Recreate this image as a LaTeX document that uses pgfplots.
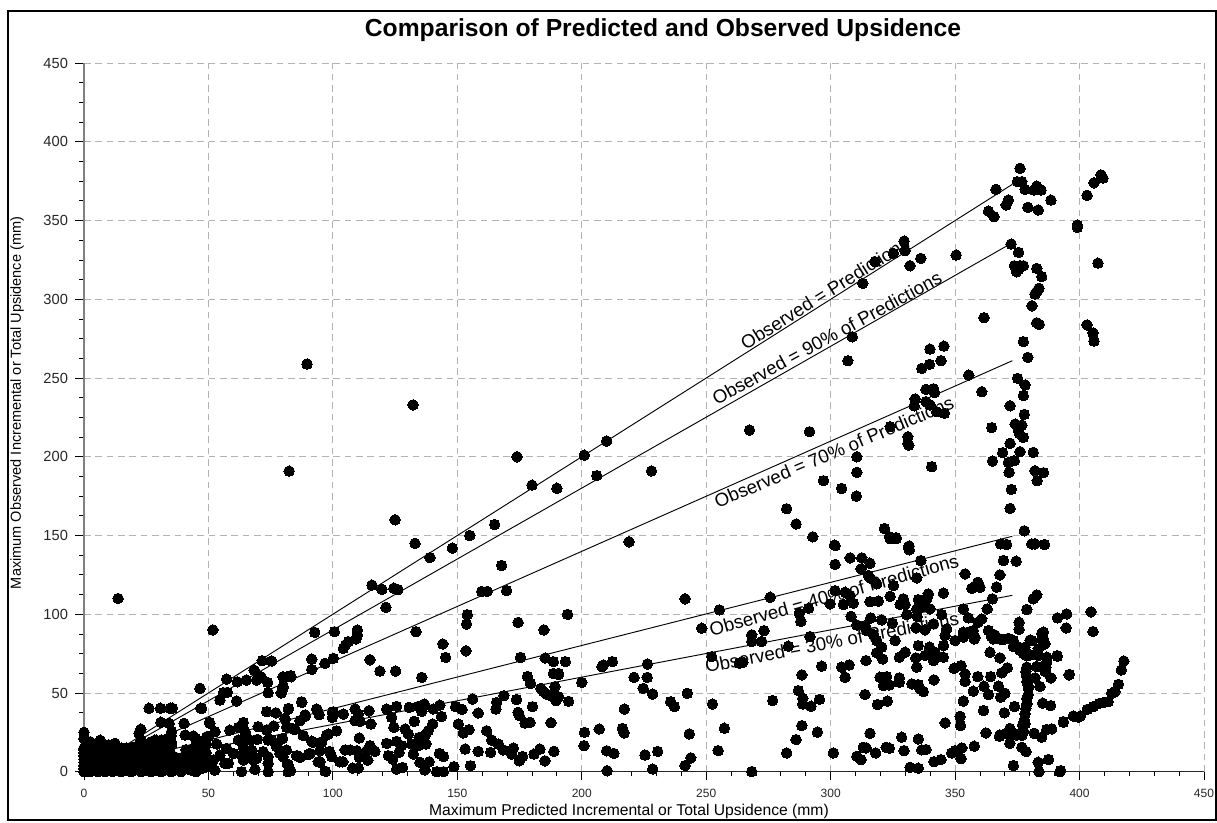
\documentclass[border=0pt]{standalone}
\usepackage{fontspec}
\setmainfont{Liberation Sans}
\usepackage{pgfplots}
\pgfplotsset{compat=1.18}
\begin{document}
\begin{tikzpicture}[x=0.75pt,y=0.75pt]
\useasboundingbox (0,0) rectangle (1217,822);
\draw[line width=1.4pt,black] (8,822-11) rectangle (1215.7,822-820);
\begin{axis}[
  at={(63pt,37.725pt)},anchor=south west,
  scale only axis,width=840pt,height=531.45pt,
  xmin=0,xmax=450,ymin=0,ymax=450,
  axis x line=bottom,axis y line=left,
  axis line style={-},
  y axis line style={color=gray,line width=1.2pt},
  x axis line style={line width=0.7pt,color=black!85},
  xtick={0,50,...,450},ytick={0,50,...,450},
  minor x tick num=4,minor y tick num=3,
  tick align=outside,
  major tick length=6.5pt,minor tick length=3.5pt,
  tick style={black,line width=0.6pt},
  grid=major,
  major grid style={dashed,color=black!30,line width=0.7pt,dash pattern=on 5pt off 3.5pt},
  /pgf/number format/assume math mode=true,
  xticklabel style={font=\fontsize{9}{10}\selectfont,color=black!85,yshift=-3pt},
  yticklabel style={font=\fontsize{11}{12}\selectfont,color=black!85,xshift=-2pt},
  title={\fontsize{18.5}{20}\selectfont\bfseries Comparison of Predicted and Observed Upsidence},
  title style={at={(axis description cs:0.517,1.0355)},anchor=center},
  xlabel={\fontsize{11.75}{13}\selectfont Maximum Predicted Incremental or Total Upsidence (mm)},
  xlabel style={at={(axis description cs:0.4866,-0.0555)},anchor=center},
  ylabel={\fontsize{10.9}{13}\selectfont Maximum Observed Incremental or Total Upsidence (mm)},
  ylabel style={at={(axis description cs:-0.0598,0.5205)},anchor=center,rotate=0},
  clip=false,
]
\addplot[only marks,mark=*,mark size=3.95pt,mark options={fill=black,draw=black,line width=0pt},forget plot] table[row sep=\\] {
x y\\
13.7 110\\ 51.8 90\\ 89.6 258.9\\ 82.4 190.9\\ 132.2 232.9\\
174 200\\ 180 182\\ 190 180\\ 201 201\\ 206 188\\ 210 210\\ 228 191\\ 219 146\\ 165 157\\ 125 160\\ 133 145\\ 139 136\\ 148 142\\ 155 150\\
115.7 118.5\\ 119.7 115.8\\ 124.5 116.6\\ 126.1 115.6\\ 121.3 104.4\\ 167.8 131\\ 159.8 114.5\\ 162 114.5\\ 169.8 115\\ 154 99.7\\ 153.7 93.8\\ 153.5 76.8\\
92.7 88.5\\ 100.6 88.9\\ 109.8 90\\ 109.3 84.3\\ 106.2 82.6\\ 105.1 80.6\\ 104.2 78.3\\ 109.8 87\\ 114.9 71.1\\ 118.9 63.9\\ 125.2 63.9\\ 133.4 88.9\\ 144.2 81.1\\ 145.3 72.6\\ 135.7 59.9\\ 174.4 94.8\\ 184.8 90\\ 194.3 99.9\\ 175.4 72.6\\ 185.3 72.2\\ 188.6 69.9\\ 193.4 69.9\\ 188.6 62.4\\ 190.7 62.4\\ 190.7 61.6\\ 178.2 60.5\\ 179.4 56.1\\ 189.2 54\\ 200 56.7\\ 208.1 66.7\\ 208.6 67.7\\ 212.3 69.9\\ 226.4 68.4\\ 221 59.9\\ 226.3 59.9\\ 224.7 52.9\\ 228.5 49.3\\ 235.7 44.5\\ 237.2 41.3\\ 217.1 39.8\\
183.6 52.9\\ 184.5 51\\ 185.9 49.3\\ 187.5 48.3\\ 190.7 47.6\\ 189.6 45.1\\ 194.7 44.7\\ 156.1 46.1\\ 168.7 48.3\\ 173.8 45.9\\ 165.8 44\\ 165.5 39.8\\ 180.2 41.3\\ 158.4 37.3\\ 174.4 37.7\\ 174.9 35.6\\ 177.2 30.9\\ 179.2 31.3\\ 187.6 31.1\\ 149.3 41.3\\ 151.9 39.6\\ 150.4 30.3\\ 154.7 26.7\\ 152.4 24.6\\ 161.8 26\\ 163.8 20.1\\ 166.5 17.6\\ 168.5 13.8\\ 171.8 11.2\\ 172.5 15\\ 153.1 14.4\\ 158.4 12.9\\ 163.4 12.3\\ 183.2 14.4\\ 180.8 11.2\\ 188.8 12.9\\ 176.2 9.7\\ 174.9 6.9\\ 185.2 6.9\\ 155.3 3.8\\ 148.6 3.2\\ 201.1 25\\ 200.9 16.5\\ 207 27.1\\ 216.3 27.5\\ 217 24.6\\ 210 13.3\\ 212.9 11.6\\ 225.4 10.6\\ 230.5 12.9\\ 210.2 0.6\\ 228.5 1.7\\
87.5 44\\ 82.1 39.8\\ 93.7 39.4\\ 94.5 36.2\\ 99.8 37.7\\ 99.8 34.5\\ 104.2 36.6\\ 108.9 39.8\\ 110.2 36.6\\ 108.9 32.4\\ 110.9 32\\ 114.5 38.7\\ 115.3 30.3\\ 121.6 39.8\\ 125.6 41.5\\ 123.6 34.5\\ 124.5 28.2\\ 130.7 40.9\\ 134.3 41.5\\ 136.7 43\\ 135.7 38.3\\ 132.7 32\\ 140.3 39.8\\ 143 42.3\\ 143.6 35.1\\ 140.1 30.3\\ 138.3 26\\ 137 22.9\\ 134.7 21.8\\ 129 27.1\\ 130.3 23.9\\ 101.5 26\\ 98.2 23.9\\ 110.6 21.4\\ 137.4 17.6\\ 131.6 17.6\\ 134.3 16.5\\ 121.6 18\\ 125.6 19.3\\ 127.6 16.5\\ 126.6 12.3\\ 114.9 16.5\\ 113.6 13.3\\ 116.9 12.9\\ 104.9 13.8\\ 106.9 13.8\\ 109.6 13.3\\ 110.6 9.1\\ 132.3 11.2\\ 122.3 10.2\\ 124 8\\ 142.8 11.6\\ 144.4 9.7\\ 104 6.3\\ 114 7.4\\ 135 5.9\\ 138.7 6.3\\ 137 1.1\\ 125.6 1.7\\ 128 2.7\\ 108 2.3\\ 110.2 2.3\\ 141.7 0\\ 144.4 0\\ 97.1 0.2\\ 94.8 6.3\\ 99.5 9.7\\ 98.6 12.9\\ 92.1 18.6\\ 95.5 18.6\\ 94.8 13.3\\ 88.1 22.9\\ 84.1 27.1\\ 86.8 32.4\\ 88.8 35.1\\ 80.8 33.4\\ 81.4 28.2\\ 79.4 20.7\\ 80.8 13.3\\ 81.7 4.9\\ 83 0.6\\ 86.8 9.1\\ 85.4 10.2\\ 90.1 10.8\\ 91.5 71.5\\ 96.8 68.8\\ 100.2 72\\ 83.2 60.3\\ 80.1 59.9\\ 80.1 53.6\\ 79.2 50\\
71.6 70.5\\ 75.4 70.3\\ 57.3 58.8\\ 61.6 57.1\\ 65.3 58.2\\ 68.4 64.5\\ 69.4 58.2\\ 71.1 60.3\\ 73.8 56.7\\ 56 50.2\\ 57.6 50.4\\ 54.6 45.5\\ 61.3 44.9\\ 74 50.2\\ 80 54\\ 79.4 50.4\\ 80 60.3\\ 83 61\\ 91.5 65\\ 47.3 40.2\\ 46.6 52.9\\ 87.4 44.4\\ 73.4 38.1\\ 77.1 37.4\\ 82.1 40.2\\ 93.5 39.8\\ 100.2 38.1\\ 88.8 36\\ 80.7 33.8\\ 50.6 30.7\\ 52.6 25.4\\ 58.6 26.4\\ 62 28.1\\ 64 31.3\\ 64.7 25.4\\ 70 28.6\\ 73.4 26.4\\ 76.3 29\\ 82.1 28.1\\ 84.8 26.9\\ 65.3 22.2\\ 69.6 20.5\\ 74 20.1\\ 79.8 21.1\\ 91.5 19.4\\ 95.5 19\\ 97.5 23.3\\ 49.3 22.2\\ 53.3 17.6\\ 47.9 18\\ 48.6 11.6\\ 52 7.4\\ 57.3 14.8\\ 60 11.6\\ 63.3 10.6\\ 67.4 13.7\\ 72 12.7\\ 74 9.5\\ 78.7 11.6\\ 81.4 13.7\\ 58 5.3\\ 64 7.4\\ 68 7.4\\ 74 5.3\\ 63.3 0\\ 68.7 1.5\\ 74 0\\ 82.1 4.2\\ 82.1 0\\ 90.8 11.6\\ 94.1 6.3\\ 96.8 0.4\\ 102.8 6.3\\ 54.6 10.6\\ 56.6 5.3\\ 64 15.8\\ 66.7 20.1\\ 62 20.1\\ 66 10.6\\ 69.4 8.4\\ 77.4 15.9\\ 80 9.5\\ 75.4 20.1\\ 47.3 7.4\\ 47.3 2.1\\ 50 3.2\\ 52.6 1\\
22.8 27\\ 22.1 24.4\\ 26.1 40.3\\ 30.7 40.3\\ 34.6 40.3\\ 35.5 40.3\\ 30.9 31.4\\ 34.2 30.7\\ 40.2 30.7\\ 46.9 40.3\\ 50.4 31.4\\ 35.2 25.4\\ 33.9 21.2\\ 40.6 23.3\\ 43.9 22.7\\ 50 22.3\\ 28.5 20.1\\ 31.2 20.1\\ 35.2 17\\ 26.5 17\\ 32.6 15.9\\
0 0\\ 0 2\\ 0 4\\ 0 6\\ 0 8\\ 0 10\\ 0 12\\ 0 14\\ 0 15\\ 0 21\\ 0 25\\ 1 1\\ 1 3\\ 1 5\\ 1 7\\ 1 9\\ 1 11\\ 1 13\\ 1 16\\ 1 19\\
2.5 0\\ 2.5 4\\ 2.5 8\\ 2.5 12\\ 2.5 15\\ 2.5 19\\ 4 1\\ 4 5\\ 4 9\\ 4 13\\ 4 17\\ 5.5 0\\ 5.5 3\\ 5.5 7\\ 5.5 11\\ 5.5 15\\ 7 2\\ 7 6\\ 7 10\\ 7 14\\ 7 18\\ 6.5 20\\ 8.5 0\\ 8.5 4\\ 8.5 8\\ 8.5 12\\ 8.5 16\\ 10 1\\ 10 5\\ 10 9\\ 10 13\\ 10 17\\ 11.5 0\\ 11.5 3\\ 11.5 7\\ 11.5 11\\ 11.5 15\\ 13 2\\ 13 6\\ 13 10\\ 13 14\\ 12.5 18\\ 15 0\\ 15 4\\ 15 8\\ 15 12\\ 15 15\\ 17 1\\ 17 5\\ 17 9\\ 17 13\\ 17 15\\ 19 0\\ 19 3\\ 19 7\\ 19 11\\ 19 15\\ 21 2\\ 21 6\\ 21 10\\ 21 14\\ 21 16\\ 23 0\\ 23 4\\ 23 8\\ 23 12\\ 23 16\\ 23 20\\ 25 1\\ 25 5\\ 25 9\\ 25 13\\ 25 16\\ 27 0\\ 27 3\\ 27 7\\ 27 11\\ 27 15\\ 27 19\\ 29 1\\ 29 5\\ 29 9\\ 29 13\\ 29 16\\ 29 20\\ 31 0\\ 31 4\\ 31 8\\ 31 11\\ 31 15\\ 31 19\\ 33 2\\ 33 6\\ 33 9\\ 33 12\\ 33 17\\ 35 0\\ 35 4\\ 35 7\\ 35 11\\ 35 19\\ 35 23\\ 37 2\\ 37 6\\ 37 9\\ 39 0\\ 39 4\\ 39 8\\ 41 3\\ 41 7\\ 41 11\\ 41 14\\ 43 1\\ 43 5\\ 43 9\\ 43 13\\ 45 0\\ 45 3\\ 45 7\\ 45 12\\ 45 17\\ 45 21\\ 47 5\\ 47 9\\ 47 14\\ 47 19\\ 49 3\\ 49 8\\ 49 12\\ 49 17\\
241.5 109.8\\ 255.3 102.8\\ 275.7 110.8\\ 248.2 91.1\\ 287.4 100.6\\ 288 95.4\\ 291.1 103.8\\ 299.8 106.6\\ 305.1 106.2\\ 301.8 115\\ 305.8 114\\ 307.8 111.9\\ 309.1 107\\ 308.2 98.7\\ 268.3 86.9\\ 268.3 82.7\\ 272.3 82.7\\ 273.2 89.6\\ 283 79.7\\ 291.7 85.8\\ 252.2 73.1\\ 263.3 68.9\\ 264.7 69.5\\ 296.4 67\\ 288.4 61.5\\ 304.4 66.4\\ 307.4 67.8\\ 305.8 60\\ 314.2 70.6\\ 287 51.5\\ 288.8 46.7\\ 288.8 43\\ 292.1 41.6\\ 295.5 46\\ 276.7 45.2\\ 242.4 49.8\\ 252.5 43\\ 313.8 49\\ 318.8 42.6\\ 322.8 44.8\\ 243.2 24\\ 243.8 8.8\\ 241.5 3.9\\ 257.3 27.6\\ 254.8 13.4\\ 268.3 0.1\\ 288.4 29.3\\ 286.1 20.4\\ 294.7 25.1\\ 282.3 11.9\\ 301.1 11.9\\ 315.8 24.4\\ 310.5 9.8\\ 312.2 7.7\\ 313.1 15.5\\ 314.2 15.1\\ 318.1 11.9\\ 322.3 15.5\\ 323.6 14.9\\ 328.5 21.9\\ 329.5 13.4\\ 335.2 20.8\\ 336.6 13.9\\ 338.3 14.1\\ 331.9 2.8\\ 335.2 2.2\\ 341.5 6.4\\ 344.3 7.7\\ 348.6 11.9\\ 350 13.4\\ 352.7 15.1\\ 352.4 8.3\\ 346 31\\ 357.7 16.2\\ 352 35.2\\ 352.2 29.3\\ 362.4 24.6\\ 353.3 44.8\\ 361.4 38.8\\ 357.3 51.1\\ 354 62.1\\ 354 57.3\\ 349.6 65.7\\ 352.4 67.4\\ 359.1 60.4\\ 364.3 60.4\\ 361.6 54.3\\ 363.4 49\\ 367.4 54.3\\ 368.3 47.3\\ 370 49.8\\ 369.8 37.4\\ 373.9 41.4\\ 368.7 62.8\\ 371 66\\ 368 72.3\\ 364 75.9\\ 319.8 60\\ 322.5 60.4\\ 321.2 54.7\\ 323.6 55.1\\ 327.6 59.6\\ 327.6 56.8\\ 332.6 55.8\\ 335.2 55.3\\ 335.9 52.6\\ 337.2 50.9\\ 341.5 58.3\\ 334.6 66.4\\ 334.2 72.3\\ 327.6 72.7\\ 329.9 75.9\\ 318.5 75.5\\ 320.9 71.6\\ 320.5 79.1\\ 318.5 83.3\\ 325.9 83.3\\ 335.2 80.1\\ 337.9 73.8\\ 339.7 79.1\\ 341.9 75.9\\ 341.3 70.6\\ 345.3 72.7\\ 345.3 80.1\\ 346 86.5\\ 346.6 90.7\\ 350 83.3\\ 353.3 85.4\\ 353.3 88.6\\ 357.3 89.6\\ 357.7 84.3\\ 363.4 89.6\\ 365.4 84.3\\ 368 84.3\\ 373.4 83.3\\ 373.4 79.5\\ 376.1 77\\ 378.8 73.8\\ 380.8 83.3\\ 378.1 79.1\\ 385.5 88.6\\ 386.1 81.2\\ 383.4 78\\ 383.4 73.8\\ 384.8 84.3\\ 386.8 72.7\\ 386.8 69.5\\ 386.5 66.4\\ 386.1 63.8\\ 391.1 73.3\\ 394.6 91.3\\ 394.8 100.2\\ 391.1 97.7\\ 375.7 94.9\\ 375.7 90.3\\ 378.8 103\\ 381.4 109.8\\ 382.8 112.3\\ 395.8 61.5\\ 388.5 59.6\\ 382.8 66.8\\ 378.8 66.4\\ 378.8 60.6\\ 382.1 59.6\\ 379.4 54.3\\ 384.1 54.1\\ 379.4 49\\ 378.8 43\\ 385.2 43.5\\ 388.4 42\\ 378.1 36.7\\ 378.1 30.4\\ 377.4 26.1\\ 376.8 23\\ 373.4 24\\ 372 26.1\\ 367.8 22.5\\ 372 18.1\\ 376.8 15.5\\ 378.5 12.8\\ 373.4 3.9\\ 383.4 6\\ 387.5 7.7\\ 383.7 0\\ 392.1 0\\ 381.8 24.4\\ 384.8 21.9\\ 386.8 26.8\\ 388.8 27.2\\ 393.5 31.4\\ 397.9 35\\ 399.5 34.6\\
301.8 143.6\\ 301.8 131.6\\ 307.8 135.8\\ 312.5 135.8\\ 315.8 132.4\\ 312.2 128.8\\ 315.2 124.6\\ 315.8 123.1\\ 318.5 119.3\\ 325.2 118.2\\ 334.6 123.1\\ 336.2 134.1\\ 331.2 142.6\\ 331.6 140.9\\ 323.9 111.4\\ 315.8 108\\ 319.2 108.3\\ 329.2 109.8\\ 327.9 106.2\\ 329.9 106.2\\ 335.2 109.3\\ 339.2 112.9\\ 338.6 109.8\\ 345.3 113.4\\ 334.6 103.4\\ 336.6 104.5\\ 339.9 103.4\\ 330.6 99.8\\ 334.8 98.5\\ 344.6 99.8\\ 316.1 97.7\\ 320.5 96.4\\ 324.8 94.3\\ 310.5 93.2\\ 313.8 92.8\\ 314.5 89.6\\ 317.2 87.1\\ 334.3 91.3\\ 337.9 90.1\\ 341.3 93.9\\ 353.3 103.4\\ 355.3 97.7\\ 359.3 95\\ 360.7 97\\ 362.9 103.4\\ 365 109.8\\ 366.7 117.2\\ 368 125\\ 354 125.6\\ 356.7 116.5\\ 359.1 120.3\\ 360 117.2\\ 369.4 134.1\\ 374.5 133.7\\ 368.3 144.7\\ 370.7 144.3\\ 380.8 144.7\\ 382.1 144.7\\ 385.9 144.3\\ 323.9 148\\ 326.3 148\\
376.1 383.2\\ 375 374.7\\ 376.8 374.7\\ 366.4 369.8\\ 378.1 369.8\\ 381.7 369.4\\ 382.8 371.9\\ 384.5 369.4\\ 371.4 363\\ 370.5 359.9\\ 388.5 363\\ 379.2 358.4\\ 383.4 356.7\\ 363.4 356\\ 365.6 352.5\\ 399.1 347.2\\ 399.1 345.7\\ 329.5 337\\ 329.9 330.9\\ 325.2 329.2\\ 317.8 323.9\\ 336.2 326\\ 331.9 321.3\\ 350.4 328.1\\ 312.9 310.1\\ 372.5 335.1\\ 375.5 329.8\\ 373.8 321.3\\ 377.4 321.3\\ 376.1 321.3\\ 374.7 317.5\\ 375.4 319\\ 382.8 319.6\\ 384.8 314.4\\ 383.7 307\\ 382.8 304.8\\ 382.1 303.3\\ 380.9 295.9\\ 382.8 285.1\\ 383.8 284.1\\ 361.6 288.3\\ 308.7 276.2\\ 306.9 261\\ 339.9 268.4\\ 345.5 270.3\\ 344.3 261\\ 339.7 258.7\\ 336.6 256.1\\ 377.4 273.1\\ 379.2 263.1\\ 355.5 251.9\\ 360.7 241.3\\ 375.1 249.8\\ 378.1 245.6\\ 377.4 238.8\\ 372.1 232.4\\ 377.8 226.9\\ 338.3 242.8\\ 341.3 243.2\\ 341.7 240.7\\ 333.9 236.7\\ 333.6 232.4\\ 338.3 235\\ 339.9 232.9\\ 342.6 228.6\\ 345.7 227.6\\ 267.4 217\\ 291.5 215.9\\ 323.9 219.1\\ 331 212.7\\ 331 208.5\\ 331.4 207.4\\ 364.7 218.5\\ 374.1 220.8\\ 376.8 220.1\\ 375.4 217\\ 375.8 214.9\\ 377.4 212.3\\ 372.1 208.5\\ 369.1 202.6\\ 376.1 203.2\\ 381.4 202.8\\ 365 197.3\\ 371.4 196.4\\ 373.8 197.5\\ 340.6 193.7\\ 310.5 200\\ 310.5 190.1\\ 371.7 190.1\\ 382.1 191.1\\ 385.5 189.9\\ 383 184.8\\ 297.1 184.8\\ 304.4 179.9\\ 310.3 175\\ 372.6 179.3\\ 372.1 167.2\\ 282.3 167\\ 286.1 157.3\\ 292.8 149.2\\ 301.5 143.9\\ 321.6 154.5\\ 323.6 149.2\\ 326.3 148.6\\ 331.5 143.3\\ 377.8 153\\
403 366\\ 405.8 374\\ 408.6 379\\ 409.4 377\\ 407.4 323\\ 403 283.7\\ 405.4 278.6\\ 405.8 273.5\\ 404.6 101.5\\ 405.4 89\\
417.8 70.3\\ 416.8 64.6\\ 415.6 55.5\\ 414.2 50.8\\ 412.9 49.8\\ 411.5 44.5\\ 409.5 43.9\\ 407.9 43.4\\ 405.5 41.3\\ 403.1 39.6\\ 400.4 35.4\\ 397.5 35.4\\ 393.5 31.8\\ 395.9 61.8\\ 391 73.7\\ 392.4 0.7\\
364.7 85.7\\ 374.7 79.4\\ 377.4 75.1\\ 380.1 74.1\\ 356 88.9\\ 358 85.3\\ 366 86.8\\ 378.4 63.5\\ 378.8 57.1\\ 379.4 52.9\\ 378.8 46.5\\ 378.4 40.2\\ 377.8 32.8\\ 377.1 29.6\\ 376.7 24.3\\ 372 27.5\\ 370.7 24.3\\ 368 23.3\\ 374.7 23.3\\ 371.4 84.7\\ 369.4 84\\ 382.8 75.1\\ 385.4 84.7\\ 384.8 87.8\\ 380.1 83.6\\ 386.4 65.6\\
};
\addplot[black,line width=0.7pt,forget plot] coordinates {(0,0) (373,373)};
\addplot[black,line width=0.7pt,forget plot] coordinates {(0,0) (372,335)};
\addplot[black,line width=0.7pt,forget plot] coordinates {(0,0) (373,261)};
\addplot[black,line width=0.7pt,forget plot] coordinates {(0,0) (373,149.5)};
\addplot[black,line width=0.7pt,forget plot] coordinates {(0,0) (373,112)};
\begin{scope}[every node/.style={font=\fontsize{14}{16}\selectfont,color=black,anchor=center}]
\node[rotate=32] at (axis cs:297.7,304.0) {Observed = Predictions};
\node[rotate=28.5] at (axis cs:298.5,275.4) {Observed = 90\% of Predictions};
\node[rotate=23] at (axis cs:301.3,203.0) {Observed = 70\% of Predictions};
\node[rotate=15.7] at (axis cs:301.3,112.2) {Observed = 40\% of Predictions};
\node[rotate=10.8] at (axis cs:300.5,82.3) {Observed = 30\% of Predictions};
\end{scope}
\end{axis}
\end{tikzpicture}
\end{document}
